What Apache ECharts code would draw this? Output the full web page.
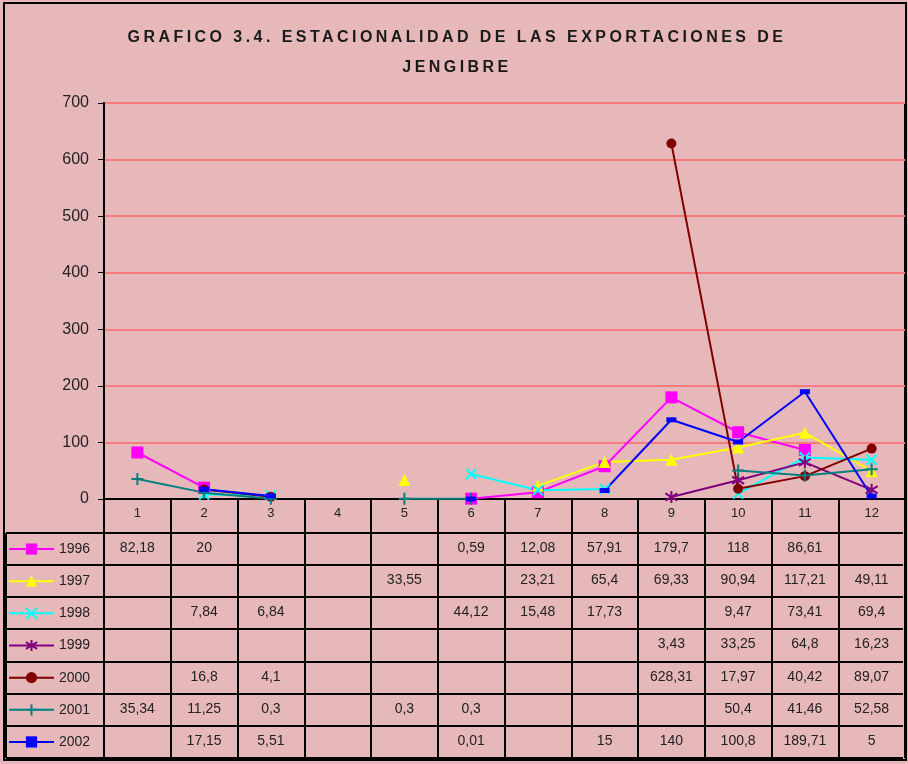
<!DOCTYPE html>
<html>
<head>
<meta charset="utf-8">
<script src="https://cdn.jsdelivr.net/npm/echarts@6/dist/echarts.min.js"></script>
<style>
body { margin: 0; }
#wrap { position: relative; width: 908px; height: 764px; background: #e7b8ba; }
#chart { width: 908px; height: 764px; }
.title {
  position: absolute; left: 0; width: 914px; text-align: center;
  font: bold 16px "Liberation Sans", Arial, sans-serif;
  letter-spacing: 3.45px; color: #1a1a1a;
}
</style>
</head>
<body>
<div id="wrap">
  <div id="chart"></div>
  <div class="title" style="top:28px">GRAFICO 3.4. ESTACIONALIDAD DE LAS EXPORTACIONES DE</div>
  <div class="title" style="top:58px">JENGIBRE</div>
</div>
<script>
// meses
const months = ['1', '2', '3', '4', '5', '6', '7', '8', '9', '10', '11', '12']
const years = ['1996', '1997', '1998', '1999', '2000', '2001', '2002']

// exportaciones por mes (null = sin dato)
const s1996 = [82.18, 20, null, null, null, 0.59, 12.08, 57.91, 179.7, 118, 86.61, null]
const s1997 = [null, null, null, null, 33.55, null, 23.21, 65.4, 69.33, 90.94, 117.21, 49.11]
const s1998 = [null, 7.84, 6.84, null, null, 44.12, 15.48, 17.73, null, 9.47, 73.41, 69.4]
const s1999 = [null, null, null, null, null, null, null, null, 3.43, 33.25, 64.8, 16.23]
const s2000 = [null, 16.8, 4.1, null, null, null, null, null, 628.31, 17.97, 40.42, 89.07]
const s2001 = [35.34, 11.25, 0.3, null, 0.3, 0.3, null, null, null, 50.4, 41.46, 52.58]
const s2002 = [null, 17.15, 5.51, null, null, 0.01, null, 15, 140, 100.8, 189.71, 5]

const yTicks = [0, 100, 200, 300, 400, 500, 600, 700]

const allData = [s1996, s1997, s1998, s1999, s2000, s2001, s2002]
const colors = ['#ff00ff', '#ffff00', '#00ffff', '#800080', '#800000', '#008080', '#0000ff']
const symbols = [
  'rect', 'triangle',
  'path://M0,0L10,10M10,0L0,10',
  'path://M5,0L5,10M0,2L10,8M0,8L10,2',
  'circle',
  'path://M5,0L5,10M0,5L10,5',
  'rect'
]
const symbolSizes = [12, 12, 10, 12, 10, 12, [10, 5]]

const GRID = { left: 104, top: 103, right: 3, height: 396 }
const tableTop = 533
const tableBottom = 758
const rowH = (tableBottom - tableTop) / years.length

const chart = echarts.init(document.getElementById('chart'))

const series = years.map((y, k) => ({
  name: y,
  type: 'line',
  data: allData[k],
  symbol: symbols[k],
  symbolSize: symbolSizes[k],
  symbolKeepAspect: true,
  connectNulls: false,
  lineStyle: { color: colors[k], width: 2 },
  itemStyle: {
    color: colors[k],
    borderColor: colors[k],
    borderWidth: symbols[k].startsWith('path') ? 2 : 0
  },
  emphasis: { disabled: true },
  animation: false
}))

const font = '"Liberation Sans", Arial, sans-serif'

chart.setOption({
  animation: false,
  grid: {
    left: GRID.left, top: GRID.top, right: GRID.right, height: GRID.height,
    show: true, borderColor: '#000', borderWidth: 2, backgroundColor: 'transparent'
  },
  legend: {
    orient: 'vertical',
    left: 8,
    top: tableTop + rowH / 2 - 7,
    padding: 0,
    itemWidth: 45,
    itemHeight: 14,
    itemGap: rowH - 14,
    selectedMode: false,
    textStyle: { fontSize: 14, color: '#222', fontFamily: font },
    data: years
  },
  xAxis: {
    type: 'category',
    data: months,
    boundaryGap: true,
    axisLine: { lineStyle: { color: '#000', width: 2 } },
    axisTick: { show: true, interval: 0, length: tableBottom - (GRID.top + GRID.height), lineStyle: { color: '#000', width: 2 } },
    axisLabel: { margin: 8, fontSize: 13, color: '#222', fontFamily: font, interval: 0 }
  },
  yAxis: {
    type: 'value',
    min: yTicks[0],
    max: yTicks[yTicks.length - 1],
    interval: 100,
    axisLine: { show: true, lineStyle: { color: '#000', width: 2 } },
    axisTick: { show: true, length: 6, lineStyle: { color: '#000' } },
    axisLabel: { margin: 15, fontSize: 16, color: '#222', fontFamily: font },
    splitLine: { lineStyle: { color: '#f47c7c', width: 2 } }
  },
  series
})

// tabla de datos debajo del gráfico
const graphic = []
const fmt = v => String(v).replace('.', ',')

// borde exterior
graphic.push({ type: 'rect', shape: { x: 4, y: 3, width: 902, height: 757 }, style: { fill: null, stroke: '#000', lineWidth: 2 }, silent: true })
// líneas horizontales de la tabla
for (let r = 0; r <= years.length; r++) {
  const y = Math.round(tableTop + r * rowH)
  graphic.push({ type: 'line', shape: { x1: 6, y1: y, x2: 906 - GRID.right, y2: y }, style: { stroke: '#000', lineWidth: 2 }, silent: true })
}
graphic.push({ type: 'line', shape: { x1: 6, y1: tableTop, x2: 6, y2: tableBottom }, style: { stroke: '#000', lineWidth: 2 }, silent: true })

allData.forEach((arr, k) => {
  const cy = tableTop + (k + 0.5) * rowH - 1
  arr.forEach((v, i) => {
    if (v == null) return
    const cx = chart.convertToPixel({ xAxisIndex: 0 }, i)
    graphic.push({
      type: 'text', x: cx, y: cy, silent: true,
      style: { text: fmt(v), fontSize: 14, fontFamily: font, fill: '#222', align: 'center', verticalAlign: 'middle' }
    })
  })
})

chart.setOption({ graphic })
</script>
</body>
</html>
